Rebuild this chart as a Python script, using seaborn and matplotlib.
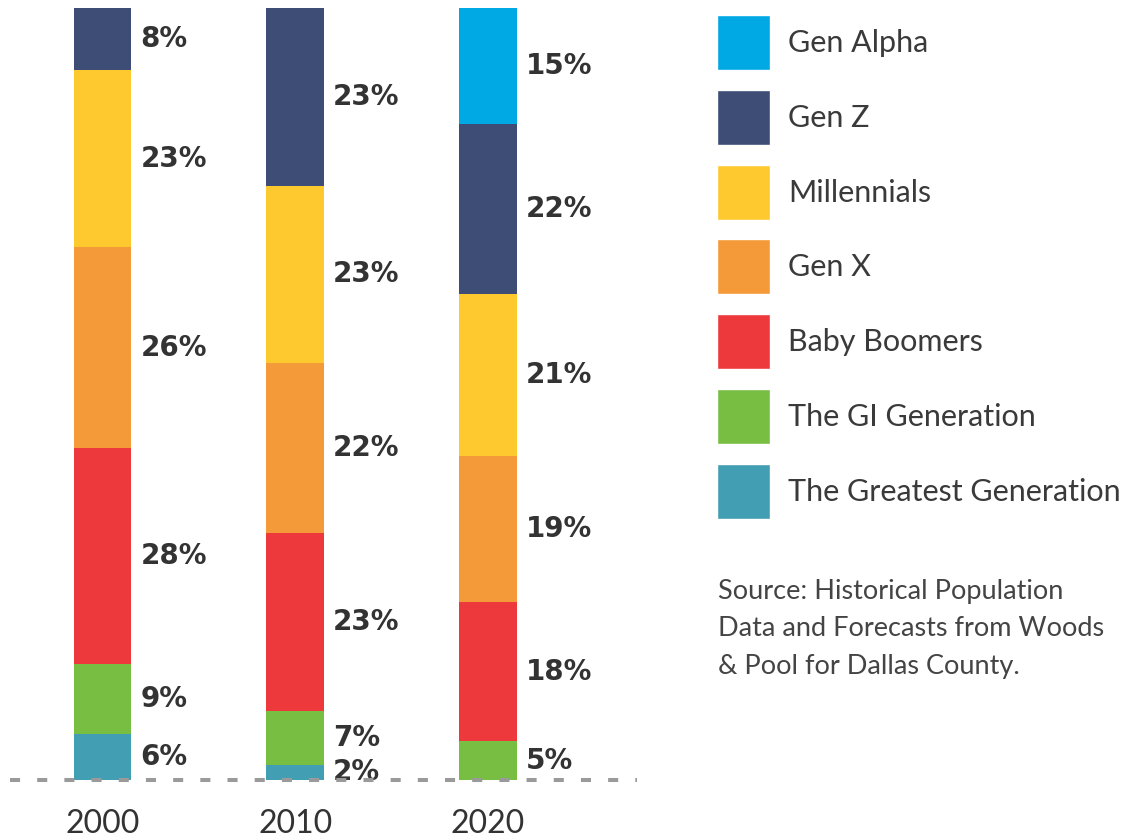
import pandas as pd
import seaborn as sns
import matplotlib.pyplot as plt
from matplotlib.patches import Patch

# Data (share of population, %)
years = ["2000", "2010", "2020"]
generations = ["Gen Alpha", "Gen Z", "Millennials", "Gen X",
               "Baby Boomers", "The GI Generation", "The Greatest Generation"]
gen_alpha = [0, 0, 15]
gen_z = [8, 23, 22]
millennials = [23, 23, 21]
gen_x = [26, 22, 19]
boomers = [28, 23, 18]
gi_gen = [9, 7, 5]
greatest = [6, 2, 0]
colors = ["#00A9E4", "#3E4D75", "#FEC92F", "#F59A38",
          "#EE393C", "#78BE43", "#429FB3"]
source = "Source: Historical Population\nData and Forecasts from Woods\n& Pool for Dallas County."

values = [gen_alpha, gen_z, millennials, gen_x, boomers, gi_gen, greatest]

sns.set_style("white")
plt.rcParams["font.family"] = ["Lato", "DejaVu Sans"]

fig = plt.figure(figsize=(11.36, 8.39), dpi=100)
ax = fig.add_axes([0, 59 / 839, 640 / 1136, 1 - 67 / 839])

# stacked bars: draw cumulative totals from the top layer down
bottom_up = values[::-1]
for k in range(len(values)):
    cum = [sum(v[i] for v in bottom_up[:len(values) - k]) for i in range(len(years))]
    df = pd.DataFrame({"year": years, "cum": cum})
    sns.barplot(data=df, x="year", y="cum", color=colors[k], width=0.3,
                linewidth=0, saturation=1, ax=ax)

# segment labels
for i in range(len(years)):
    base = 0
    for v in bottom_up:
        if v[i] > 0:
            ax.text(i + 0.197, base + v[i] / 2, f"{v[i]}%", va="center", ha="left",
                    fontsize=20, fontweight="bold", color="#333333",
                    family="DejaVu Sans")
        base += v[i]

ax.axhline(0, xmin=0.015, xmax=0.995, color="#9A9A9A", lw=2.9,
           ls=(0, (2.5, 4.25)), zorder=10, clip_on=False)

ax.set_xlim(-0.532, 2.79)
ax.set_ylim(0, 100)
ax.set_xlabel("")
ax.set_ylabel("")
ax.set_yticks([])
ax.tick_params(axis="x", length=0, pad=21, labelsize=23, labelcolor="#333333")
sns.despine(ax=ax, left=True, bottom=True)

handles = [Patch(facecolor=c, label=g) for c, g in zip(colors, generations)]
fig.legend(handles=handles, loc="upper left", bbox_to_anchor=(717 / 1136, 1 - 15 / 839),
           frameon=False, fontsize=22, borderpad=0, borderaxespad=0,
           handlelength=1.73, handleheight=2.39, labelspacing=0.65,
           handletextpad=0.59, labelcolor="#3a3a3a")

fig.text(718 / 1136, 1 - 579 / 839, source, va="top", ha="left",
         fontsize=19.5, color="#444444", linespacing=1.62)

fig.savefig("out.png", dpi=100)
